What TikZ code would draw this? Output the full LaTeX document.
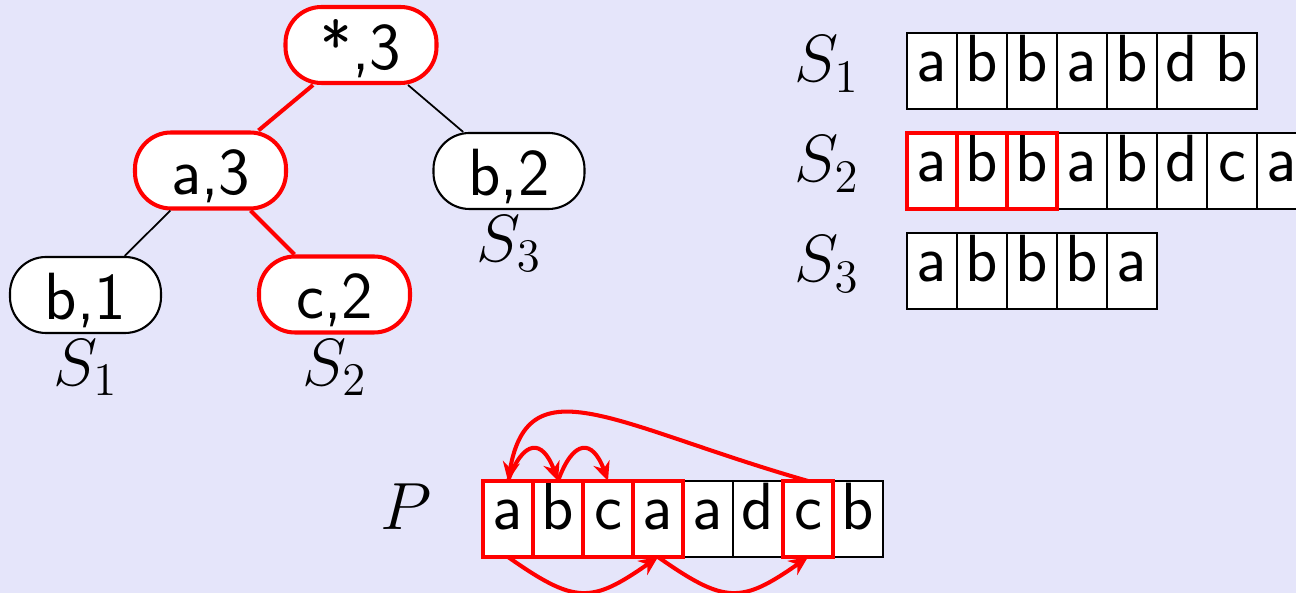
\documentclass[tikz,border=0pt]{standalone}
\usepackage{fix-cm}
\usepackage{fontspec}
\usetikzlibrary{arrows.meta,positioning}
\definecolor{Lavender}{HTML}{E5E5FA}
\definecolor{HotRed}{HTML}{FF0000}

\begin{document}
\begin{tikzpicture}[
  font=\fontsize{19}{23}\selectfont\sffamily,
  tnode/.style={draw=black,line width=0.6pt,fill=white,rounded corners=0.36cm,minimum width=1.51cm,minimum height=0.76cm,inner sep=0pt,text height=0.55cm,text depth=0.06cm},
  hot/.style={tnode,draw=HotRed,line width=1.15pt},
  cell/.style={draw=black,line width=0.6pt,fill=white,minimum width=0.5cm,minimum height=0.76cm,inner sep=0pt,outer sep=0pt,text height=0.42cm,text depth=0.2cm},
  cellbare/.style={cell,draw=none},
  lbl/.style={inner sep=0pt,text height=0.42cm,text depth=0.2cm},
  sub/.style={inner sep=0pt,below=0.05cm of #1},
  plain/.style={draw=black,line width=0.5pt},
  hotedge/.style={draw=HotRed,line width=1.15pt},
  hilite/.style={draw=HotRed,line width=1.15pt},
  link/.style={draw=HotRed,line width=1.15pt,-{Stealth[length=1.9mm,width=1.7mm]}}
]
\useasboundingbox (0,0) rectangle (12.96,-5.93);
\clip (0,0) rectangle (12.96,-5.93);
\fill[Lavender] (0,0) rectangle (12.96,-5.93);

% tree
\node[hot] (root) at (3.61,-0.45) {*,3};
\node[hot] (a3) at (2.105,-1.705) {a,3};
\node[tnode] (b2) at (5.09,-1.71) {b,2};
\node[tnode] (b1) at (0.855,-2.95) {b,1};
\node[hot] (c2) at (3.345,-2.945) {c,2};
\node[sub=b1] (t1) {$S_1$};
\node[sub=c2] (t2) {$S_2$};
\node[sub=b2] (t3) {$S_3$};
\draw[hotedge] (root)--(a3); \draw[plain] (root)--(b2);
\draw[plain] (a3)--(b1); \draw[hotedge] (a3)--(c2);

% strings
\foreach \ch [count=\i] in {a,b,b,a,b}
  \node[cell] (s1-\i) at ({8.82+0.5*\i},-0.71) {\ch};
\node[cellbare,right=0pt of s1-5] (s1-6) {d};
\node[cellbare,right=0pt of s1-6] (s1-7) {b};
\draw[line width=0.6pt] (s1-6.north west) rectangle (s1-7.south east);
\foreach \ch [count=\i] in {a,b,b,a,b,d,c,a}
  \node[cell] (s2-\i) at ({8.82+0.5*\i},-1.71) {\ch};
\foreach \ch [count=\i] in {a,b,b,b,a}
  \node[cell] (s3-\i) at ({8.82+0.5*\i},-2.71) {\ch};
\node[lbl,left=0.47cm of s1-1] (l1) {$S_1$};
\node[lbl,left=0.47cm of s2-1] (l2) {$S_2$};
\node[lbl,left=0.47cm of s3-1] (l3) {$S_3$};
\foreach \i in {1,2,3}
  \draw[hilite] (s2-\i.north west) rectangle (s2-\i.south east);

% pattern
\foreach \ch [count=\i] in {a,b,c,a,a,d,c,b}
  \node[cell] (p-\i) at ({4.58+0.5*\i},-5.19) {\ch};
\node[lbl,left=0.51cm of p-1] (lp) {$P$};
\foreach \i in {1,2,3,4,7}
  \draw[hilite] (p-\i.north west) rectangle (p-\i.south east);
\draw[link] (p-1.north) to[out=70,in=110,distance=0.45cm] (p-2.north);
\draw[link] (p-2.north) to[out=70,in=110,distance=0.45cm] (p-3.north);
\draw[link] (p-7.north) to[out=164,in=80,out distance=2cm,in distance=1.2cm] (p-1.north);
\draw[link] (p-1.south) to[out=-35,in=-145,looseness=1.4] (p-4.south);
\draw[link] (p-4.south) to[out=-35,in=-145,looseness=1.4] (p-7.south);
\end{tikzpicture}
\end{document}
